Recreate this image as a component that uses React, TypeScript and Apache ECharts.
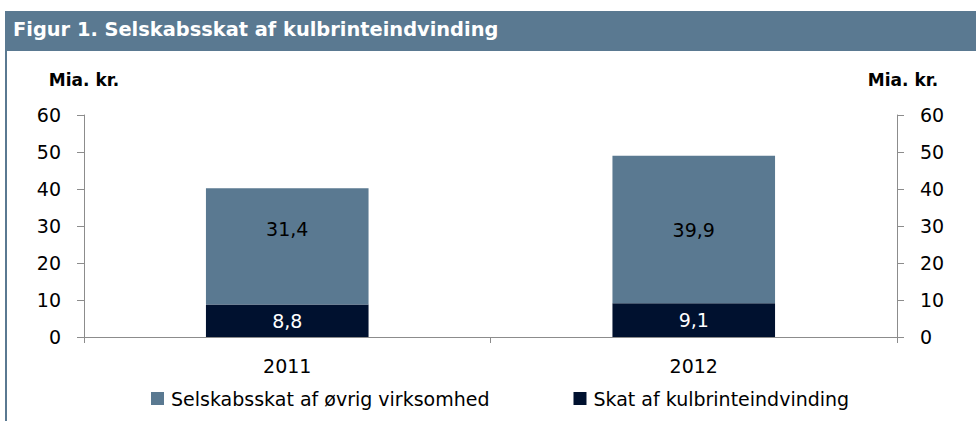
import React, { useEffect, useRef } from "react";
import * as echarts from "echarts";

const categories = ["2011", "2012"];
const kulbrinteValues = [8.8, 9.1];
const oevrigValues = [31.4, 39.9];
const seriesNames = ["Skat af kulbrinteindvinding", "Selskabsskat af øvrig virksomhed"];
const legendOrder = ["Selskabsskat af øvrig virksomhed", "Skat af kulbrinteindvinding"];
const titleText = "Figur 1. Selskabsskat af kulbrinteindvinding";
const unitLabel = "Mia. kr.";

const FONT = "'DejaVu Sans', sans-serif";
const LIGHT = "#5a7991";
const DARK = "#00112f";
const AXIS = "#8c8c8c";

const fmt = (p: any) => Number(p.value).toFixed(1).replace(".", ",");

export default function App() {
  const ref = useRef<HTMLDivElement>(null);
  useEffect(() => {
    if (!ref.current) return;
    const chart = echarts.init(ref.current, undefined, { renderer: "svg" });
    const yAxisBase = {
      type: "value" as const,
      min: 0,
      max: 60,
      interval: 10,
      name: unitLabel,
      nameLocation: "end" as const,
      nameGap: 27,
      nameTextStyle: { fontFamily: FONT, fontSize: 17, fontWeight: "bold", color: "#000", align: "center" },
      axisLine: { show: true, lineStyle: { color: AXIS, width: 1 } },
      axisTick: { show: true, length: 7, lineStyle: { color: AXIS } },
      splitLine: { show: false },
      axisLabel: { fontFamily: FONT, fontSize: 19, color: "#000", margin: 23 },
    };
    const oevrigData = oevrigValues.map((v, i) =>
      i === 0 ? { value: v, label: { offset: [0, -17] } } : { value: v }
    );
    chart.setOption({
      animation: false,
      graphic: [
        { type: "rect", left: 5, top: 11, shape: { width: 971, height: 40 }, style: { fill: LIGHT } },
        { type: "rect", left: 5, top: 51, shape: { width: 2, height: 370 }, style: { fill: LIGHT } },
        {
          type: "text",
          left: 13,
          top: 20,
          style: { text: titleText, fill: "#fff", font: `bold 19.4px ${FONT}` },
        },
      ],
      grid: { left: 84, right: 79, top: 115, bottom: 84, containLabel: false },
      legend: {
        data: legendOrder,
        left: 151,
        top: 389,
        padding: 0,
        itemWidth: 13,
        itemHeight: 13,
        itemGap: 84,
        icon: "rect",
        textStyle: { fontFamily: FONT, fontSize: 19, color: "#000", padding: [0, 0, 0, 2] },
      },
      xAxis: {
        type: "category",
        data: categories,
        axisLine: { lineStyle: { color: AXIS } },
        axisTick: { show: true, length: 6, alignWithLabel: false, lineStyle: { color: AXIS } },
        axisLabel: { fontFamily: FONT, fontSize: 19, color: "#000", margin: 19 },
      },
      yAxis: [
        { ...yAxisBase, position: "left" },
        { ...yAxisBase, position: "right", nameTextStyle: { ...yAxisBase.nameTextStyle, padding: [0, 0, 0, 12] } },
      ],
      series: [
        {
          name: seriesNames[0],
          type: "bar",
          stack: "total",
          data: kulbrinteValues,
          barWidth: "40%",
          itemStyle: { color: DARK },
          label: { show: true, position: "inside", formatter: fmt, color: "#fff", fontFamily: FONT, fontSize: 19 },
        },
        {
          name: seriesNames[1],
          type: "bar",
          stack: "total",
          data: oevrigData,
          barWidth: "40%",
          itemStyle: { color: LIGHT },
          label: { show: true, position: "inside", formatter: fmt, color: "#000", fontFamily: FONT, fontSize: 19 },
        },
      ],
    });
    return () => chart.dispose();
  }, []);
  return <div ref={ref} style={{ position: "absolute", left: 0, top: 0, width: 976, height: 421 }} />;
}
